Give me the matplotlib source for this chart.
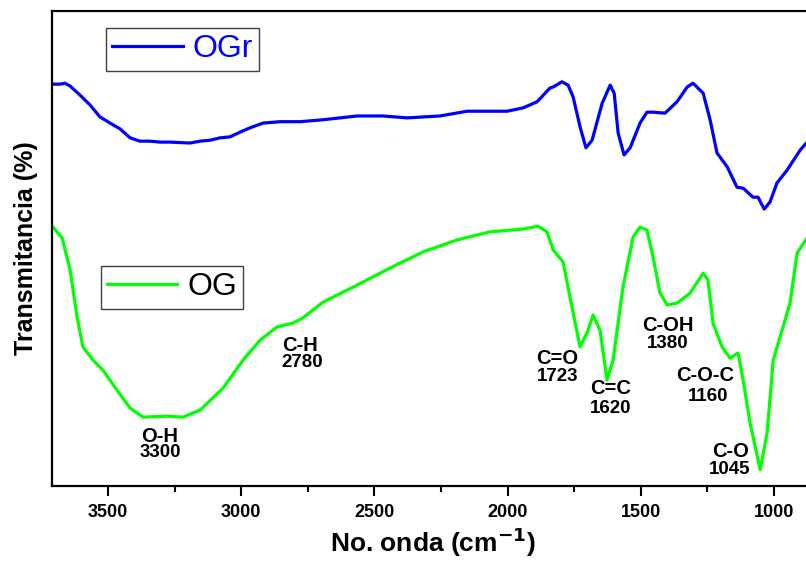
import matplotlib

matplotlib.use("Agg")
import matplotlib.pyplot as plt
from matplotlib.lines import Line2D
from matplotlib.ticker import MultipleLocator

plt.rcParams["font.family"] = ["Liberation Sans", "DejaVu Sans"]

# FTIR spectra (wavenumber in cm-1, transmittance in a.u.)
ogr_wn = [3710, 3680, 3661, 3642, 3605, 3567, 3530, 3492, 3455, 3417, 3380, 3342,
          3305, 3267, 3192, 3154, 3117, 3079, 3042, 3004, 2967, 2918, 2854, 2779,
          2693, 2565, 2468, 2377, 2254, 2152, 2002, 1942, 1889, 1841, 1829, 1796,
          1773, 1754, 1728, 1706, 1683, 1645, 1615, 1600, 1585, 1563, 1540, 1503,
          1477, 1454, 1409, 1364, 1326, 1304, 1266, 1240, 1214, 1176, 1139, 1116,
          1079, 1060, 1037, 1015, 989, 951, 902, 876, 850]
ogr_t = [84.6, 84.6, 84.8, 84.2, 82.3, 80.2, 77.7, 76.4, 75.2, 73.3, 72.6, 72.6,
         72.4, 72.4, 72.2, 72.6, 72.8, 73.3, 73.5, 74.5, 75.4, 76.4, 76.7, 76.7,
         77.1, 77.9, 77.9, 77.5, 77.9, 78.9, 78.9, 79.6, 80.9, 83.8, 84.0, 85.1,
         84.4, 81.9, 75.6, 71.2, 72.8, 80.6, 84.4, 82.7, 74.3, 69.7, 71.2, 76.4,
         78.7, 78.7, 78.5, 80.9, 84.0, 84.8, 82.7, 77.1, 70.1, 67.2, 62.9, 62.7,
         60.8, 60.8, 58.3, 59.8, 63.8, 66.5, 70.7, 72.4, 74.0]

og_wn = [3706, 3672, 3642, 3616, 3594, 3556, 3519, 3466, 3417, 3368, 3278, 3218,
         3154, 3068, 2993, 2929, 2865, 2805, 2768, 2693, 2565, 2441, 2317, 2190,
         2066, 1942, 1886, 1852, 1829, 1792, 1766, 1728, 1702, 1679, 1653, 1627,
         1604, 1567, 1529, 1503, 1477, 1454, 1428, 1401, 1364, 1315, 1266, 1248,
         1229, 1195, 1165, 1135, 1116, 1090, 1052, 1026, 1003, 977, 940, 913, 876, 850]
og_t = [54.5, 52.2, 45.5, 35.6, 29.3, 26.5, 24.4, 20.2, 16.4, 14.5, 14.7, 14.5,
        16.0, 20.6, 26.5, 30.7, 33.5, 34.3, 35.4, 38.7, 42.3, 45.9, 49.3, 51.8,
        53.5, 54.1, 54.7, 53.5, 49.7, 47.2, 39.8, 29.3, 32.2, 36.0, 32.8, 22.3,
        26.5, 41.9, 52.4, 54.5, 53.9, 48.2, 40.6, 38.1, 38.5, 40.6, 44.8, 43.4,
        34.3, 29.3, 26.9, 28.0, 22.3, 13.3, 3.4, 11.2, 26.5, 31.4, 38.5, 49.1, 52.2, 53.5]

# band assignments on the OG spectrum
band_names = ["O-H", "C-H", "C=O", "C=C", "C-OH", "C-O-C", "C-O"]
band_wn = ["3300", "2780", "1723", "1620", "1380", "1160", "1045"]
# label anchors: x in cm-1, y of the name line and of the number line
band_x = [3305, 2779, 1814, 1615, 1398, 1259, 1165]
band_name_y = [10.5, 29.5, 26.9, 20.6, 33.7, 23.2, 7.2]
band_num_y = [7.0, 25.9, 23.0, 16.4, 30.1, 18.8, 3.4]
band_num_dx = [0, -7, 0, 0, 0, -11, 0]

fig = plt.figure(figsize=(8.06, 5.62), dpi=100)
ax = fig.add_axes([52 / 806, 76 / 562, 762 / 806, 475 / 562])

ax.plot(ogr_wn, ogr_t, color="#0000ff", lw=2.3, solid_joinstyle="round")
ax.plot(og_wn, og_t, color="#00ff00", lw=2.3, solid_joinstyle="round")

ax.set_xlim(3710, 850)
ax.set_ylim(0, 100)
ax.xaxis.set_major_locator(MultipleLocator(500))
ax.xaxis.set_minor_locator(MultipleLocator(250))
ax.tick_params(axis="x", which="major", direction="out", length=7, width=1.5,
               labelsize=13, pad=6)
ax.tick_params(axis="x", which="minor", direction="out", length=4, width=1.5)
ax.set_yticks([])
for lbl in ax.get_xticklabels():
    lbl.set_fontweight("bold")
for s in ax.spines.values():
    s.set_linewidth(1.6)

ax.set_xlabel("No. onda (cm$^{\\mathbf{-1}}$)", fontsize=19, fontweight="bold", labelpad=3)
ax.set_ylabel("Transmitancia (%)", fontsize=18, fontweight="bold", labelpad=10)

for name, wn, x, ny, vy, dx in zip(band_names, band_wn, band_x, band_name_y,
                                   band_num_y, band_num_dx):
    ax.text(x, ny, name, ha="center", va="center", fontsize=14.5, fontweight="bold")
    ax.text(x + dx, vy, wn, ha="center", va="center", fontsize=13.5, fontweight="bold")

leg_ogr = ax.legend(handles=[Line2D([], [], color="#0000ff", lw=2.3)], labels=["OGr"],
                    loc="upper left", bbox_to_anchor=(0.071, 0.964), borderaxespad=0,
                    fontsize=23, fancybox=False, edgecolor="#404040", framealpha=1,
                    handlelength=2.2, handletextpad=0.3, borderpad=0.2, labelcolor="#0000ff")
leg_ogr.get_frame().set_linewidth(1.0)
ax.add_artist(leg_ogr)
leg_og = ax.legend(handles=[Line2D([], [], color="#00ff00", lw=2.3)], labels=["OG"],
                   loc="upper left", bbox_to_anchor=(0.064, 0.463), borderaxespad=0,
                   fontsize=23, fancybox=False, edgecolor="#404040", framealpha=1,
                   handlelength=2.2, handletextpad=0.3, borderpad=0.2)
leg_og.get_frame().set_linewidth(1.0)

fig.savefig("out.png", dpi=100)
